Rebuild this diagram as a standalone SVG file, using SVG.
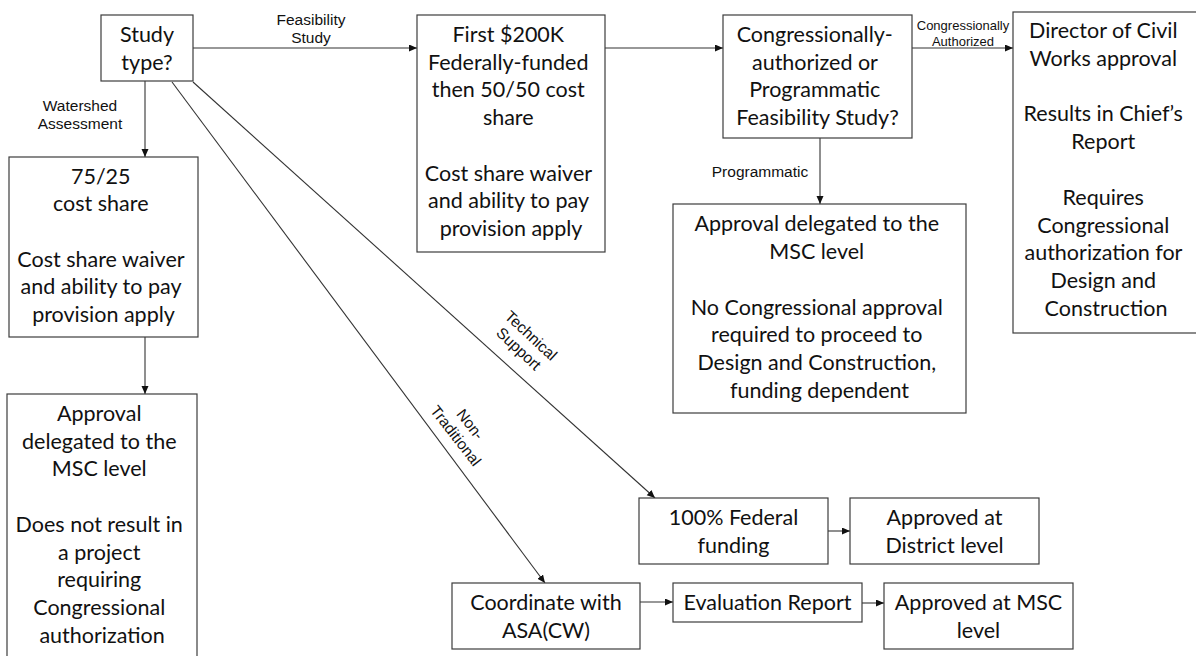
<svg xmlns="http://www.w3.org/2000/svg" width="1196" height="656" viewBox="0 0 1196 656">
  <style>
    .box { fill: #ffffff; stroke: #3c3c3c; stroke-width: 1.2; }
    .t { font-family: Lato, "Liberation Sans", sans-serif; font-size: 21.5px; fill: #111111; text-anchor: middle; }
    .lbl { font-family: "Liberation Sans", Arial, sans-serif; font-size: 15.5px; fill: #111111; text-anchor: middle; }
    .lbl-sm { font-family: "Liberation Sans", Arial, sans-serif; font-size: 13px; fill: #111111; text-anchor: middle; }
    .edge { fill: none; stroke: #333333; stroke-width: 1.1; }
  </style>
  <defs>
    <marker id="arrow" markerUnits="userSpaceOnUse" markerWidth="9" markerHeight="8" refX="8" refY="3.5" orient="auto">
      <path d="M0,0 L8,3.5 L0,7 z" fill="#111111"/>
    </marker>
  </defs>
  <rect width="1196" height="656" fill="#ffffff"/>

  <!-- connectors -->
  <g id="connectors">
    <line class="edge" x1="193" y1="48" x2="417" y2="48" marker-end="url(#arrow)"/>
    <line class="edge" x1="605" y1="48" x2="723" y2="48" marker-end="url(#arrow)"/>
    <line class="edge" x1="912" y1="48" x2="1013" y2="48" marker-end="url(#arrow)"/>
    <line class="edge" x1="820" y1="138" x2="820" y2="204" marker-end="url(#arrow)"/>
    <line class="edge" x1="145" y1="81" x2="145" y2="157" marker-end="url(#arrow)"/>
    <line class="edge" x1="145" y1="337" x2="145" y2="394" marker-end="url(#arrow)"/>
    <line class="edge" x1="193" y1="82" x2="655" y2="498" marker-end="url(#arrow)"/>
    <line class="edge" x1="172" y1="82" x2="545" y2="583" marker-end="url(#arrow)"/>
    <line class="edge" x1="828" y1="531" x2="850" y2="531" marker-end="url(#arrow)"/>
    <line class="edge" x1="640" y1="602" x2="673" y2="602" marker-end="url(#arrow)"/>
    <line class="edge" x1="862" y1="603" x2="884" y2="603" marker-end="url(#arrow)"/>

    <text class="lbl"><tspan x="311" y="25">Feasibility</tspan><tspan x="311" y="43">Study</tspan></text>
    <text class="lbl"><tspan x="80" y="111">Watershed</tspan><tspan x="80" y="129">Assessment</tspan></text>
    <text class="lbl-sm"><tspan x="963" y="30">Congressionally</tspan><tspan x="963" y="46">Authorized</tspan></text>
    <text class="lbl" x="760" y="177">Programmatic</text>
    <text class="lbl" transform="translate(525,342) rotate(43)"><tspan x="0" y="-3.5">Technical</tspan><tspan x="0" y="14.5">Support</tspan></text>
    <text class="lbl" transform="translate(463,430) rotate(52)"><tspan x="0" y="-4">Non-</tspan><tspan x="0" y="14.5">Traditional</tspan></text>
  </g>

  <g id="study-type">
    <rect class="box" x="101" y="15" width="92" height="66"/>
    <text class="t"><tspan x="147" y="42">Study</tspan><tspan x="147" y="70">type?</tspan></text>
  </g>

  <g id="feasibility">
    <rect class="box" x="417" y="15" width="188" height="237"/>
    <text class="t">
      <tspan x="511" y="42">First $200K</tspan>
      <tspan x="511" y="69.7">Federally-funded</tspan>
      <tspan x="511" y="97.4">then 50/50 cost</tspan>
      <tspan x="511" y="125">share</tspan>
      <tspan x="511" y="180.5">Cost share waiver</tspan>
      <tspan x="511" y="208">and ability to pay</tspan>
      <tspan x="511" y="236">provision apply</tspan>
    </text>
  </g>

  <g id="authorized-or-programmatic">
    <rect class="box" x="723" y="15" width="189" height="123"/>
    <text class="t">
      <tspan x="817.5" y="42">Congressionally-</tspan>
      <tspan x="817.5" y="69.7">authorized or</tspan>
      <tspan x="817.5" y="97.4">Programmatic</tspan>
      <tspan x="817.5" y="125">Feasibility Study?</tspan>
    </text>
  </g>

  <g id="director-approval">
    <rect class="box" x="1013" y="12" width="190" height="321"/>
    <text class="t">
      <tspan x="1106" y="38">Director of Civil</tspan>
      <tspan x="1106" y="65.8">Works approval</tspan>
      <tspan x="1106" y="121.4">Results in Chief’s</tspan>
      <tspan x="1106" y="149.2">Report</tspan>
      <tspan x="1106" y="204.8">Requires</tspan>
      <tspan x="1106" y="232.6">Congressional</tspan>
      <tspan x="1106" y="260.4">authorization for</tspan>
      <tspan x="1106" y="288.2">Design and</tspan>
      <tspan x="1106" y="316">Construction</tspan>
    </text>
  </g>

  <g id="programmatic-msc">
    <rect class="box" x="673" y="204" width="293" height="209"/>
    <text class="t">
      <tspan x="819.5" y="231">Approval delegated to the</tspan>
      <tspan x="819.5" y="259">MSC level</tspan>
      <tspan x="819.5" y="314.5">No Congressional approval</tspan>
      <tspan x="819.5" y="342">required to proceed to</tspan>
      <tspan x="819.5" y="370">Design and Construction,</tspan>
      <tspan x="819.5" y="397.5">funding dependent</tspan>
    </text>
  </g>

  <g id="watershed-cost-share">
    <rect class="box" x="9" y="157" width="189" height="180"/>
    <text class="t">
      <tspan x="103.5" y="183.5">75/25</tspan>
      <tspan x="103.5" y="211">cost share</tspan>
      <tspan x="103.5" y="266.5">Cost share waiver</tspan>
      <tspan x="103.5" y="294">and ability to pay</tspan>
      <tspan x="103.5" y="322">provision apply</tspan>
    </text>
  </g>

  <g id="watershed-approval">
    <rect class="box" x="7" y="394" width="190" height="290"/>
    <text class="t">
      <tspan x="102" y="421">Approval</tspan>
      <tspan x="102" y="448.7">delegated to the</tspan>
      <tspan x="102" y="476.4">MSC level</tspan>
      <tspan x="102" y="531.8">Does not result in</tspan>
      <tspan x="102" y="559.5">a project</tspan>
      <tspan x="102" y="587.2">requiring</tspan>
      <tspan x="102" y="615">Congressional</tspan>
      <tspan x="102" y="642.7">authorization</tspan>
    </text>
  </g>

  <g id="federal-funding">
    <rect class="box" x="639" y="498" width="189" height="66"/>
    <text class="t"><tspan x="733.5" y="524.5">100% Federal</tspan><tspan x="733.5" y="552.5">funding</tspan></text>
  </g>

  <g id="district-approval">
    <rect class="box" x="850" y="498" width="189" height="66"/>
    <text class="t"><tspan x="944.5" y="524.5">Approved at</tspan><tspan x="944.5" y="552.5">District level</tspan></text>
  </g>

  <g id="coordinate-asa">
    <rect class="box" x="452" y="583" width="188" height="66"/>
    <text class="t"><tspan x="546" y="609.5">Coordinate with</tspan><tspan x="546" y="637.5">ASA(CW)</tspan></text>
  </g>

  <g id="evaluation-report">
    <rect class="box" x="673" y="583" width="189" height="39"/>
    <text class="t" x="767.5" y="610">Evaluation Report</text>
  </g>

  <g id="msc-approval">
    <rect class="box" x="884" y="583" width="189" height="66"/>
    <text class="t"><tspan x="978.5" y="609.5">Approved at MSC</tspan><tspan x="978.5" y="637.5">level</tspan></text>
  </g>
</svg>
